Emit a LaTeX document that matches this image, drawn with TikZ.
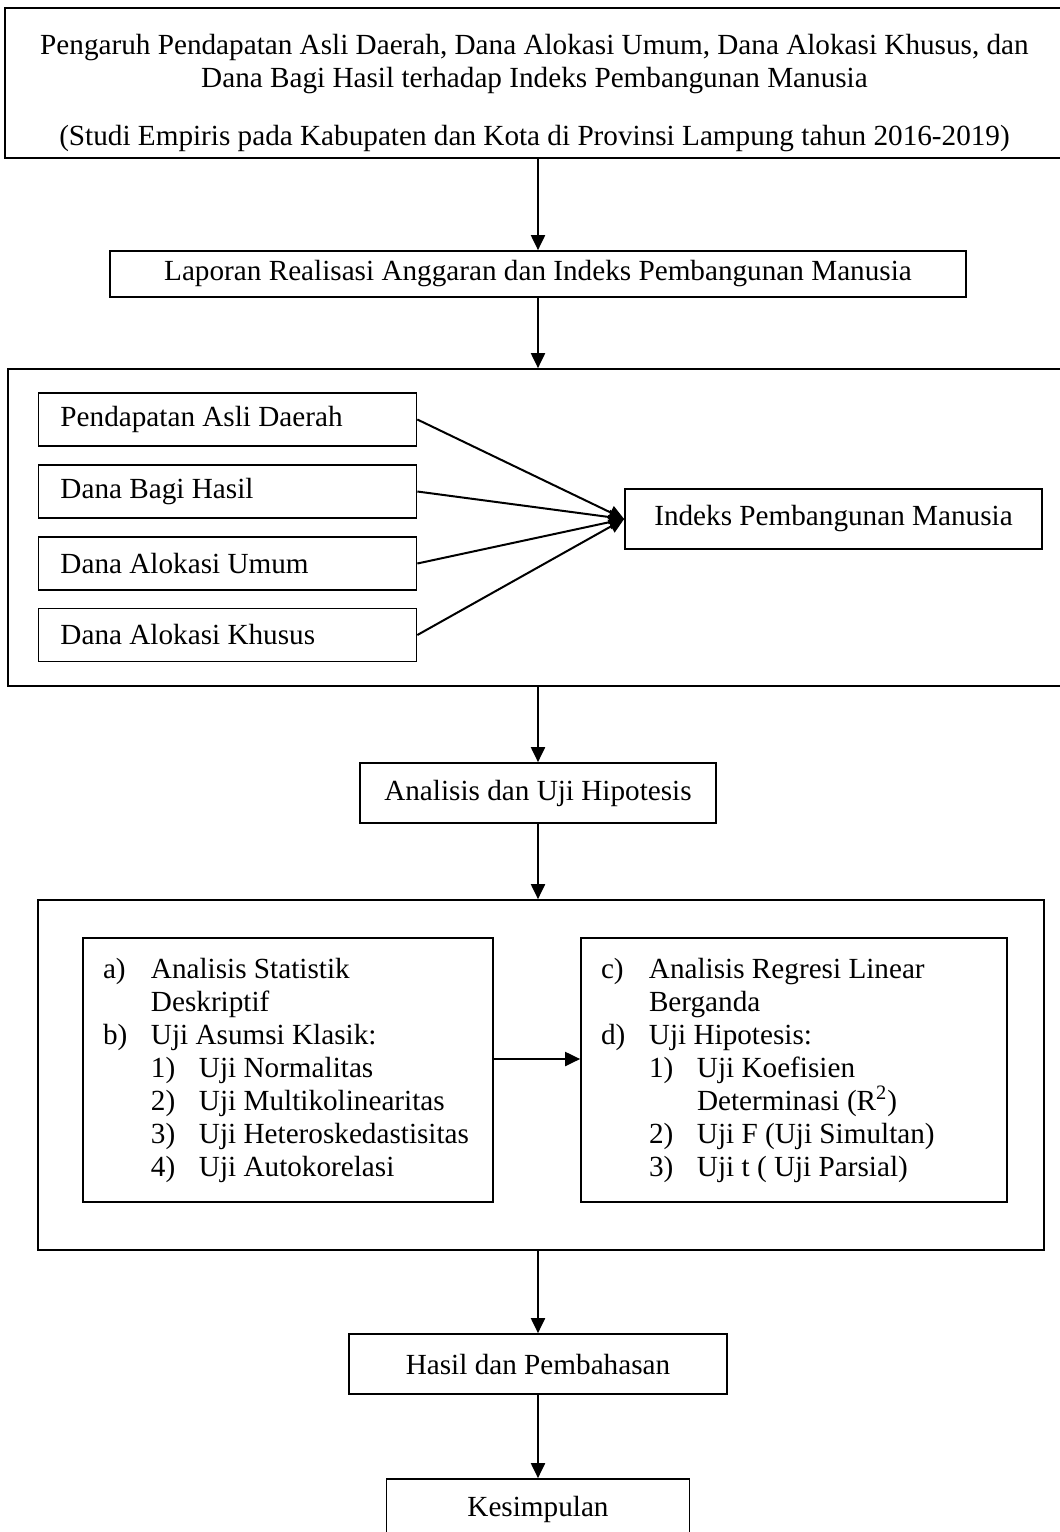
\documentclass[tikz,border=0pt]{standalone}
\usepackage{fontspec}
\setmainfont{Liberation Serif}
\usetikzlibrary{arrows.meta}
\newcommand{\butir}[1]{\makebox[24pt][l]{#1}}
\newcommand{\rataKiri}{\raggedright\spaceskip 0pt\xspaceskip 0pt\hyphenpenalty 10000\relax}

\begin{document}
\begin{tikzpicture}[x=0.5pt, y=-0.5pt,
  font=\fontsize{14.6pt}{16.5pt}\selectfont,
  kotak/.style={draw, line width=0.85pt, inner sep=0pt, align=center},
  variabel/.style={draw, line width=0.85pt, inner xsep=11pt, inner ysep=0pt, text width=167pt, minimum height=26.5pt,
    execute at begin node=\rataKiri},
  daftar/.style={draw, line width=0.85pt, inner xsep=10pt, minimum height=132pt,
    execute at begin node=\rataKiri},
  panah/.style={line width=1pt, -{Triangle[length=7.5pt, width=7pt]}}]
\path[use as bounding box] (0,0) rectangle (1060,1532);
\clip (0,0) rectangle (1060,1532);
\node[kotak, minimum width=529.5pt, minimum height=75pt] (judul) at (534.5,83) {\rule{0pt}{20pt}Pengaruh Pendapatan Asli Daerah, Dana Alokasi Umum, Dana Alokasi Khusus, dan\\Dana Bagi Hasil terhadap Indeks Pembangunan Manusia\\[12.5pt](Studi Empiris pada Kabupaten dan Kota di Provinsi Lampung tahun 2016-2019)};
\node[kotak, minimum width=428pt, minimum height=23pt] (laporan) at (538,274) {Laporan Realisasi Anggaran dan Indeks Pembangunan Manusia};
\node[kotak, minimum width=528pt, minimum height=158.5pt] (kotak1) at (536,527.5) {};
\node[variabel] (pad) at (227.5,419.5) {Pendapatan Asli Daerah};
\node[variabel] (dbh) at (227.5,491.5) {Dana Bagi Hasil};
\node[variabel] (dau) at (227.5,563.5) {Dana Alokasi Umum};
\node[variabel] (dak) at (227.5,635) {Dana Alokasi Khusus};
\node[kotak, minimum width=208.5pt, minimum height=30pt] (ipm) at (833.5,519) {Indeks Pembangunan Manusia};
\node[kotak, minimum width=178pt, minimum height=30pt] (analisis) at (538,793) {Analisis dan Uji Hipotesis};
\node[kotak, minimum width=503pt, minimum height=175pt] (kotak2) at (541,1075) {};
\node[daftar, text width=185pt] (kiri) at (288,1070) {\butir{a)}Analisis Statistik\\
\butir{}Deskriptif\\
\butir{b)}Uji Asumsi Klasik:\\
\butir{}\butir{1)}Uji Normalitas\\
\butir{}\butir{2)}Uji Multikolinearitas\\
\butir{}\butir{3)}Uji Heteroskedastisitas\\
\butir{}\butir{4)}Uji Autokorelasi};
\node[daftar, text width=193pt] (kanan) at (794,1070) {\butir{c)}Analisis Regresi Linear\\
\butir{}Berganda\\
\butir{d)}Uji Hipotesis:\\
\butir{}\butir{1)}Uji Koefisien\\
\butir{}\butir{}Determinasi (R\textsuperscript{2})\\
\butir{}\butir{2)}Uji F (Uji Simultan)\\
\butir{}\butir{3)}Uji t ( Uji Parsial)};
\node[kotak, minimum width=189pt, minimum height=30pt] (hasil) at (538,1364) {Hasil dan Pembahasan};
\node[kotak, minimum width=151.5pt, minimum height=30pt] (kesimpulan) at (538,1509) {Kesimpulan};
% alur utama
\draw[panah] (judul.south -| laporan.north) -- (laporan.north);
\draw[panah] (laporan.south) -- (laporan.south |- kotak1.north);
\draw[panah] (analisis.north |- kotak1.south) -- (analisis.north);
\draw[panah] (analisis.south) -- (analisis.south |- kotak2.north);
\draw[panah] (hasil.north |- kotak2.south) -- (hasil.north);
\draw[panah] (hasil.south) -- (kesimpulan.north);
% variabel ke IPM
\draw[panah] (pad.east) -- (ipm.west);
\draw[panah] (dbh.east) -- (ipm.west);
\draw[panah] (dau.east) -- (ipm.west);
\draw[panah] (dak.east) -- (ipm.west);
\draw[panah] ([yshift=5.5pt]kiri.east) -- ([yshift=5.5pt]kanan.west);
\end{tikzpicture}
\end{document}
